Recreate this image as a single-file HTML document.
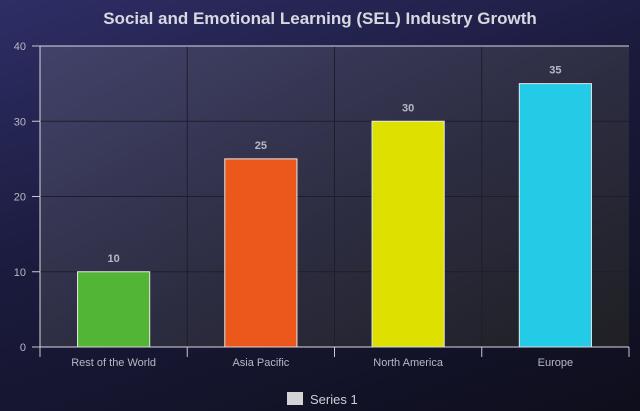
<!DOCTYPE html>
<html><head><meta charset="utf-8"><style>
html,body{margin:0;padding:0;width:640px;height:411px;overflow:hidden}
body{background:linear-gradient(160deg,#2e2e66 0%,#1a1a3c 45%,#0e0e1c 100%);font-family:"Liberation Sans",sans-serif}
svg{position:absolute;left:0;top:0}
</style></head><body>
<svg width="640" height="411">
<defs>
<linearGradient id="pg" x1="0" y1="0" x2="1" y2="1">
<stop offset="0" stop-color="#42426a"/><stop offset="0.5" stop-color="#2e2e44"/><stop offset="1" stop-color="#1f1f24"/>
</linearGradient>
</defs>
<text x="320" y="24" text-anchor="middle" fill="#d8d8e0" font-size="17" font-weight="bold">Social and Emotional Learning (SEL) Industry Growth</text>
<rect x="40" y="46" width="589" height="301" fill="url(#pg)"/>
<g id="grid"></g>
<g id="bars"></g>
<g id="axes"></g>
<rect x="287" y="392" width="16" height="13" fill="#d4d4d4"/>
<text x="310" y="404" fill="#cfcfd6" font-size="13">Series 1</text>
</svg>
<script>
const categories=["Rest of the World","Asia Pacific","North America","Europe"];
const values=[10,25,30,35];
const colors=["#52b535","#ec571c","#dee000","#24cbe6"];
const yTicks=[0,10,20,30,40];
const X0=40,X1=629,Y0=347,Y1=46,YMAX=40;
const band=(X1-X0)/categories.length;
const y=v=>Y0-(v/YMAX)*(Y0-Y1);
const xc=i=>X0+band*(i+0.5);
const NS="http://www.w3.org/2000/svg";
function mk(t,a,p){const e=document.createElementNS(NS,t);for(const k in a)e.setAttribute(k,a[k]);p.appendChild(e);return e;}
const grid=document.getElementById('grid'),bars=document.getElementById('bars'),axes=document.getElementById('axes');
yTicks.forEach(t=>{
 if(t>0&&t<YMAX){const g=mk('line',{x1:X0,x2:X1,y1:y(t),y2:y(t),stroke:'#1e1e2a','stroke-width':1},grid);
 
 }
 const tk=mk('line',{x1:X0-8,x2:X0,y1:y(t),y2:y(t),stroke:'#c8c8d0'},axes);
 
 
 const l=mk('text',{x:X0-14,y:y(t)+4,'text-anchor':'end',fill:'#b8b8c4','font-size':11},axes);
 l.textContent=t;
 
 
});
for(let i=1;i<categories.length;i++){
 const g=mk('line',{x1:X0+band*i,x2:X0+band*i,y1:Y1,y2:Y0,stroke:'#1e1e2a'},grid);
 
 
}
categories.forEach((c,i)=>{
 const bw=band*0.49;
 const r=mk('rect',{x:xc(i)-bw/2,y:y(values[i]),width:bw,height:Y0-y(values[i]),fill:colors[i],stroke:'#e8e8e8','stroke-width':1},bars);
 
 
 const v=mk('text',{x:xc(i),y:y(values[i])-10,'text-anchor':'middle',fill:'#b8b8c4','font-size':11,'font-weight':'bold'},bars);
 v.textContent=values[i];
 
 
 const l=mk('text',{x:xc(i),y:Y0+19,'text-anchor':'middle',fill:'#b8b8c4','font-size':11},axes);
 l.textContent=c;
 
 
});
for(let i=0;i<=categories.length;i++){
 const t=mk('line',{x1:X0+band*i,x2:X0+band*i,y1:Y0,y2:Y0+10,stroke:'#c8c8d0'},axes);
 
 
}
const ya=mk('line',{x1:X0,x2:X0,y1:Y1,y2:Y0,stroke:'#d8d8e0'},axes);


const xa=mk('line',{x1:X0,x2:X1,y1:Y0,y2:Y0,stroke:'#d8d8e0'},axes);


const ta=mk('line',{x1:X0,x2:X1,y1:Y1,y2:Y1,stroke:'#d8d8e0'},axes);


</script>
</body></html>
